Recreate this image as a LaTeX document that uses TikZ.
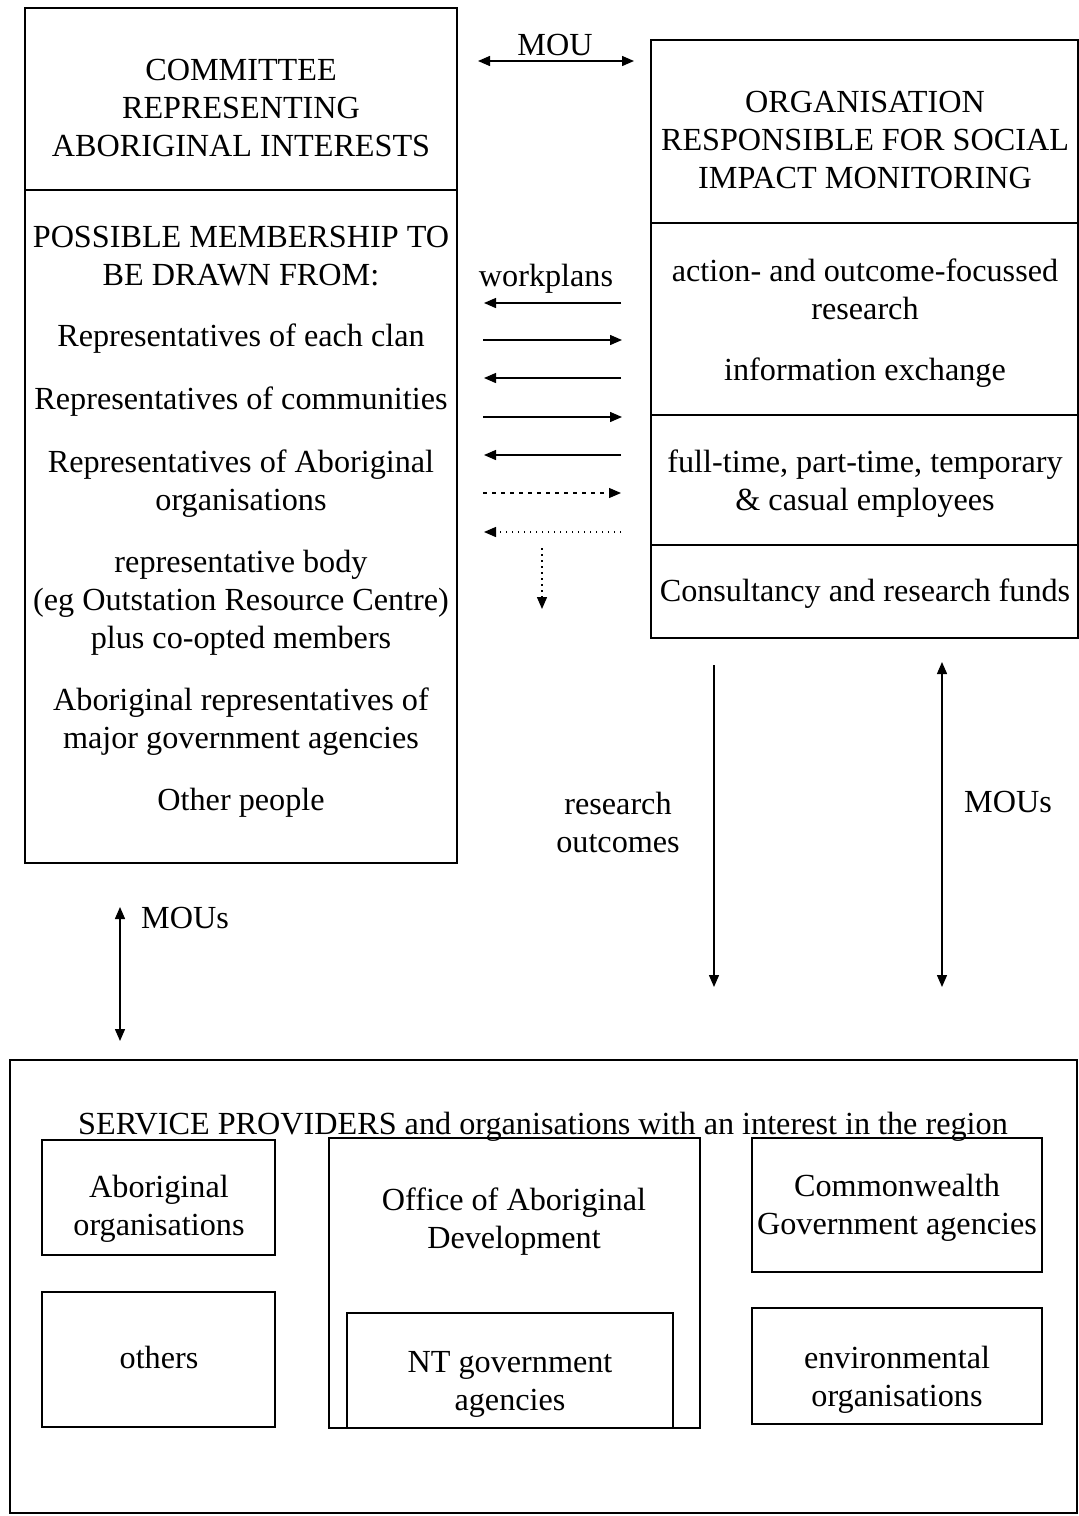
\documentclass[tikz,border=0pt]{standalone}
\usepackage{fontspec}
\setmainfont{Liberation Serif}
\usetikzlibrary{arrows.meta,fit}
\begin{document}
\begin{tikzpicture}[x=1pt,y=-1pt,
  boxframe/.style={draw,line width=1.8pt,inner sep=0pt},
  divline/.style={line width=1.6pt},
  txt/.style={align=center,inner sep=0pt,font=\fontsize{32.2}{38}\selectfont},
  arr/.style={line width=1.4pt,-{Triangle[length=12pt,width=10pt]}},
  darr/.style={line width=1.4pt,{Triangle[length=12pt,width=10pt]}-{Triangle[length=12pt,width=10pt]}},
  dasharr/.style={line width=1.2pt,dash pattern=on 4pt off 5pt,-{Triangle[length=12pt,width=10pt]}},
  dotarr/.style={line width=1.4pt,dash pattern=on 1.5pt off 4.5pt,-{Triangle[length=12pt,width=10pt]}}]
\useasboundingbox (0,0) rectangle (1079,1516);
\fill[white] (0,0) rectangle (1079,1516);

% left box
\node[boxframe,fit={(25,8) (457,863)}] (L) {};
\draw[divline] (L.west |- 0,190) -- (L.east |- 0,190);
\node[txt] (Lt) at (241,108) {COMMITTEE\\REPRESENTING\\ABORIGINAL INTERESTS};
\node[txt] (Lm) at (241,256) {POSSIBLE MEMBERSHIP TO\\BE DRAWN FROM:};
\node[txt] (L1) at (241,339) {Representatives of each clan};
\node[txt] (L2) at (241,402) {Representatives of communities};
\node[txt] (L3) at (241,484) {Representatives of Aboriginal\\organisations};
\node[txt] (L4) at (241,603) {representative body\\(eg Outstation Resource Centre)\\plus co-opted members};
\node[txt] (L5) at (241,722) {Aboriginal representatives of\\major government agencies};
\node[txt] (L6) at (241,803) {Other people};

% right box
\node[boxframe,fit={(651,40) (1078,638)}] (R) {};
\draw[divline] (R.west |- 0,223) -- (R.east |- 0,223);
\draw[divline] (R.west |- 0,415) -- (R.east |- 0,415);
\draw[divline] (R.west |- 0,545) -- (R.east |- 0,545);
\node[txt] (Rt) at (865,140) {ORGANISATION\\RESPONSIBLE FOR SOCIAL\\IMPACT MONITORING};
\node[txt] (R1) at (865,289) {action- and outcome-focussed\\research};
\node[txt] (R2) at (865,373) {information exchange};
\node[txt] (R3) at (865,484) {full-time, part-time, temporary\\\& casual employees};
\node[txt] (R4) at (865,594) {Consultancy and research funds};

% MOU top
\coordinate (m1) at (478,61);
\coordinate (m2) at (634,61);
\draw[darr] (m1) -- (m2);
\node[txt] (mou) at (555,45) {MOU};

% workplans arrows
\node[txt] (wp) at (546,279) {workplans};
\coordinate (a1r) at (621,303); \coordinate (a1l) at (484,303);
\coordinate (a2r) at (622,340); \coordinate (a2l) at (483,340);
\coordinate (a3r) at (621,378); \coordinate (a3l) at (484,378);
\coordinate (a4r) at (622,417); \coordinate (a4l) at (483,417);
\coordinate (a5r) at (621,455); \coordinate (a5l) at (484,455);
\coordinate (a6r) at (621,493); \coordinate (a6l) at (483,493);
\coordinate (a7r) at (621,532); \coordinate (a7l) at (484,532);
\coordinate (a8t) at (542,548); \coordinate (a8b) at (542,609);
\draw[arr] (a1r) -- (a1l);
\draw[arr] (a2l) -- (a2r);
\draw[arr] (a3r) -- (a3l);
\draw[arr] (a4l) -- (a4r);
\draw[arr] (a5r) -- (a5l);
\draw[dasharr] (a6l) -- (a6r);
\draw[dotarr] (a7r) -- (a7l);
\draw[dotarr] (a8t) -- (a8b);

% vertical arrows
\coordinate (ro1) at (714,665); \coordinate (ro2) at (714,987);
\draw[arr] (ro1) -- (ro2);
\node[txt] (rol) at (618,822) {research\\outcomes};
\coordinate (mr1) at (942,662); \coordinate (mr2) at (942,987);
\draw[darr] (mr1) -- (mr2);
\node[txt] (mrl) at (1008,802) {MOUs};
\coordinate (ml1) at (120,907); \coordinate (ml2) at (120,1041);
\draw[darr] (ml1) -- (ml2);
\node[txt,anchor=west] (mll) at (141,918) {MOUs};

% bottom box
\node[boxframe,fit={(10,1060) (1077,1513)}] (B) {};
\node[txt] (Bt) at (543,1127) {SERVICE PROVIDERS and organisations with an interest in the region};
\node[boxframe,fit={(42,1140) (275,1255)}] (b1) {};
\node[txt] at (159,1209) {Aboriginal\\organisations};
\node[boxframe,fit={(42,1292) (275,1427)}] (b2) {};
\node[txt] at (159,1357) {others};
\node[boxframe,fit={(329,1138) (700,1428)}] (b3) {};
\node[txt] at (514,1222) {Office of Aboriginal\\Development};
\node[boxframe,fit={(347,1313) (673,1428)}] (b4) {};
\node[txt] at (510,1384) {NT government\\agencies};
\node[boxframe,fit={(752,1138) (1042,1272)}] (b5) {};
\node[txt] at (897,1208) {Commonwealth\\Government agencies};
\node[boxframe,fit={(752,1308) (1042,1424)}] (b6) {};
\node[txt] at (897,1380) {environmental\\organisations};
\end{tikzpicture}
\end{document}
